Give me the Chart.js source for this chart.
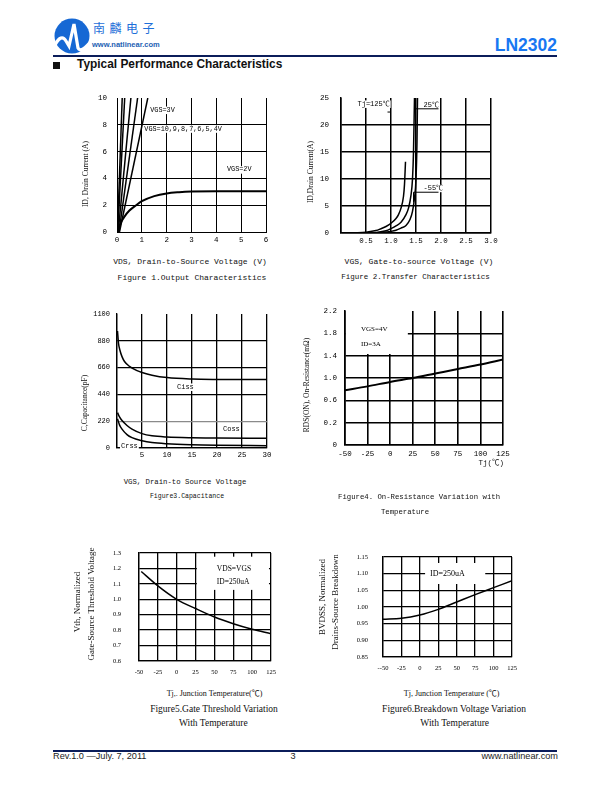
<!DOCTYPE html>
<html>
<head>
<meta charset="utf-8">
<script src="https://cdn.jsdelivr.net/npm/chart.js@4.4.1/dist/chart.umd.min.js"></script>
<style>
  body { margin: 0; width: 612px; height: 792px; position: relative; background: #fff; overflow: hidden; font-family: "Liberation Sans", Arial, sans-serif; }
  .abs { position: absolute; white-space: nowrap; line-height: 1; }
  canvas { position: absolute; }
  .mono { font-family: "Liberation Mono", "Noto Sans CJK SC", monospace; color: #111; }
  .serif { font-family: "Liberation Serif", "Noto Sans CJK SC", serif; color: #111; }
  .rot { transform: translate(-50%, -50%) rotate(-90deg); }
  .ctr { transform: translate(-50%, -50%); }
  .izq { transform: translateY(-50%); }
  .der { transform: translate(-100%, -50%); }
</style>
</head>
<body>
<!-- cabecera -->
<svg class="abs" style="left:54px;top:18px" width="38" height="36" viewBox="0 0 38 36">
  <circle cx="18" cy="18" r="17.5" fill="#1668d4"/>
  <path d="M1 27 C5 19 9 18 12 23 L15 28 L20 6 L24 30 C26 34 31 31 38 22" stroke="#fff" stroke-width="3.2" fill="none"/>
</svg>
<div class="abs izq" style="left:93px;top:28px;font-family:'Noto Sans CJK SC';font-size:12px;letter-spacing:4.5px;color:#1e6fd9">南麟电子</div>
<div class="abs izq" style="left:92px;top:45px;font-size:7.5px;font-weight:bold;color:#1d5fb3">www.natlinear.com</div>
<div class="abs der" style="left:557px;top:45.5px;font-size:17.5px;font-weight:bold;color:#1877f2">LN2302</div>
<div class="abs" style="left:53px;top:54.5px;width:504px;height:2.5px;background:#0b1d5a"></div>
<div class="abs" style="left:53px;top:62px;width:7px;height:7px;background:#111"></div>
<div class="abs izq" style="left:77px;top:65.3px;font-size:11.9px;font-weight:bold;color:#111">Typical Performance Characteristics</div>

<canvas id="fig1"></canvas>
<canvas id="fig2"></canvas>
<canvas id="fig3"></canvas>
<canvas id="fig4"></canvas>
<canvas id="fig5"></canvas>
<canvas id="fig6"></canvas>

<!-- textos figura 1 -->
<div class="abs serif rot" style="left:86px;top:174px;font-size:7.5px">ID, Drain Current (A)</div>
<div class="abs mono ctr" style="left:190px;top:262px;font-size:8px">VDS, Drain-to-Source Voltage (V)</div>
<div class="abs mono ctr" style="left:192px;top:277.7px;font-size:8px">Figure 1.Output Characteristics</div>
<!-- figura 2 -->
<div class="abs serif rot" style="left:311px;top:172px;font-size:7.5px">ID,Drain Current(A)</div>
<div class="abs mono ctr" style="left:419px;top:262px;font-size:8px">VGS, Gate-to-source Voltage (V)</div>
<div class="abs mono ctr" style="left:415.5px;top:277.7px;font-size:7.5px">Figure 2.Transfer Characteristics</div>
<!-- figura 3 -->
<div class="abs serif rot" style="left:85px;top:403px;font-size:7.5px">C,Capacitance(pF)</div>
<div class="abs mono ctr" style="left:185px;top:482.7px;font-size:7.3px">VGS, Drain-to Source Voltage</div>
<div class="abs mono ctr" style="left:187px;top:496.7px;font-size:6.5px">Figure3.Capacitance</div>
<!-- figura 4 -->
<div class="abs serif rot" style="left:307px;top:385px;font-size:7.5px">RDS(ON), On-Resistance(mΩ)</div>
<div class="abs mono der" style="left:504px;top:464.3px;font-size:7.5px">Tj(℃)</div>
<div class="abs mono izq" style="left:338px;top:497.7px;font-size:7.3px">Figure4.  On-Resistance Variation with</div>
<div class="abs mono ctr" style="left:405px;top:513.3px;font-size:7.3px">Temperature</div>
<!-- figura 5 -->
<div class="abs serif rot" style="left:77px;top:602px;font-size:9px">Vth, Normalized</div>
<div class="abs serif rot" style="left:91px;top:604px;font-size:9px">Gate-Source Threshold Voltage</div>
<div class="abs serif ctr" style="left:214.5px;top:694px;font-size:8px">Tj,. Junction Temperature(℃)</div>
<div class="abs serif ctr" style="left:214px;top:710px;font-size:9.5px">Figure5.Gate Threshold Variation</div>
<div class="abs serif ctr" style="left:213.3px;top:724px;font-size:9.5px">With Temperature</div>
<!-- figura 6 -->
<div class="abs serif rot" style="left:322px;top:597px;font-size:9px">BVDSS, Normalized</div>
<div class="abs serif rot" style="left:335px;top:602px;font-size:9px">Drains-Source Breakdown</div>
<div class="abs serif ctr" style="left:451.7px;top:694px;font-size:8px">Tj, Junction Temperature (℃)</div>
<div class="abs serif ctr" style="left:454px;top:710px;font-size:9.5px">Figure6.Breakdown Voltage Variation</div>
<div class="abs serif ctr" style="left:454.7px;top:724px;font-size:9.5px">With Temperature</div>

<!-- pie de pagina -->
<div class="abs" style="left:53px;top:750px;width:504px;height:2.3px;background:#0b1d5a"></div>
<div class="abs izq" style="left:53px;top:757px;font-size:9.2px;color:#222">Rev.1.0 —July. 7, 2011</div>
<div class="abs ctr" style="left:293px;top:757px;font-size:9.2px;color:#222">3</div>
<div class="abs der" style="left:558px;top:757px;font-size:9.2px;color:#222">www.natlinear.com</div>

<script>
// ---- Datos figura 1: curvas de salida ----
const fig1X = ["0", "1", "2", "3", "4", "5", "6"];
const fig1Y = ["0", "2", "4", "6", "8", "10"];
const vgs2Vds = [0, 0.1, 0.2, 0.3, 0.5, 0.77, 1, 1.5, 2, 2.5, 3, 4, 5, 6];
const vgs2Id = [0, 0.45, 0.85, 1.15, 1.6, 2.0, 2.3, 2.68, 2.88, 2.97, 3.02, 3.05, 3.05, 3.05];
const vgsAltoVds = [[0.02, 0.21], [0.03, 0.31], [0.05, 0.56], [0.08, 0.83], [0.1, 1.24]];
const vgsAltoId = [0, 10];

// ---- figura 2: transferencia ----
const fig2X = ["", "0.5", "1.0", "1.5", "2.0", "2.5", "3.0"];
const fig2Y = ["0", "5", "10", "15", "20", "25"];
const t125Vgs = [0, 0.3, 0.5, 0.7, 0.8, 0.9, 1.0, 1.1, 1.15, 1.2, 1.25, 1.27, 1.29];
const t125Id = [0, 0.05, 0.15, 0.45, 0.8, 1.2, 1.8, 2.7, 3.4, 4.6, 6.8, 9, 13.2];
const t25Vgs = [0, 0.5, 0.7, 0.9, 1.0, 1.1, 1.2, 1.3, 1.35, 1.4, 1.43, 1.45, 1.47];
const t25Id = [0, 0.02, 0.1, 0.4, 0.8, 1.3, 2.0, 3.4, 4.6, 7, 10, 15, 25];
const tm55Vgs = [0, 0.6, 0.8, 1.0, 1.1, 1.2, 1.3, 1.38, 1.43, 1.47, 1.5, 1.52, 1.53];
const tm55Id = [0, 0.02, 0.1, 0.3, 0.5, 0.9, 1.4, 2.5, 4.0, 6.5, 10, 17, 25];

// ---- figura 3: capacidades ----
const fig3X = ["", "5", "10", "15", "20", "25", "30"];
const fig3Y = ["0", "220", "440", "660", "880", "1100"];
const cissV = [0.1, 0.3, 0.6, 1, 1.5, 2.5, 4, 5, 7, 10, 15, 20, 30];
const cissPf = [960, 860, 800, 750, 710, 670, 635, 620, 598, 578, 566, 563, 562];
const cossV = [0.1, 0.5, 1, 2, 3, 5, 7, 10, 15, 20, 30];
const cossPf = [290, 255, 225, 185, 155, 118, 100, 90, 84, 82, 80];
const crssV = [0.1, 0.5, 1, 2, 3, 5, 7, 10, 15, 20, 30];
const crssPf = [240, 190, 155, 110, 85, 60, 45, 35, 27, 23, 19];

// ---- figura 4: Rds(on) vs temperatura ----
const fig4X = ["-50", "-25", "0", "25", "50", "75", "100", "125"];
const fig4Y = ["0", "0.2", "0.6", "1.0", "1.4", "1.8", "2.2"];
const temps = [-50, -25, 0, 25, 50, 75, 100, 125];
const rdsOn = [0.78, 0.85, 0.93, 1.0, 1.08, 1.16, 1.24, 1.33];

// ---- figura 5: Vth normalizado ----
const fig5X = ["-50", "-25", "0", "25", "50", "75", "100", "125"];
const fig5Y = ["0.6", "0.7", "0.8", "0.9", "1.0", "1.1", "1.2", "1.3"];
const vthTemp = [-47, -25, 0, 25, 50, 75, 100, 125];
const vthNorm = [1.18, 1.087, 1.0, 0.94, 0.885, 0.842, 0.806, 0.777];

// ---- figura 6: BVdss normalizado ----
const fig6X = ["--50", "-25", "0", "25", "50", "75", "100", "125"];
const fig6Y = ["0.85", "0.90", "0.95", "1.00", "1.05", "1.10", "1.15"];
const bvdss = [0.963, 0.966, 0.976, 0.993, 1.015, 1.037, 1.058, 1.079];

const MONO = "'Liberation Mono', 'Noto Sans CJK SC', monospace";
const SERIF = "'Liberation Serif', 'Noto Sans CJK SC', serif";

function pts(xs, ys) {
  return xs.map((x, i) => ({ x: x, y: ys[i] }));
}

function linea(data, ancho, suave) {
  return {
    data: data,
    borderColor: "#000",
    borderWidth: ancho,
    pointRadius: 0,
    fill: false,
    tension: suave ? 0.4 : 0,
    cubicInterpolationMode: suave ? "monotone" : "default",
  };
}

// eje generico, las etiquetas salen de los arrays de arriba
function eje(o) {
  const ultimo = o.labels.length - 1;
  return {
    type: "linear",
    min: o.min,
    max: o.max,
    ticks: {
      stepSize: o.step,
      autoSkip: false,
      maxRotation: 0,
      padding: o.pad,
      color: "#000",
      font: { family: o.family, size: o.size },
      callback: (v, i) => o.labels[i],
    },
    grid: {
      drawTicks: false,
      lineWidth: o.lw || 1,
      color: (c) => {
        if (o.sinTope && c.index === ultimo) return "rgba(0,0,0,0)";
        if (o.gris && o.gris.includes(c.index)) return "#8a8a8a";
        return "#000";
      },
    },
    border: { color: "#000", width: o.lw || 1 },
    afterFit: (s) => {
      s.paddingLeft = 0;
      s.paddingRight = 0;
      s.paddingTop = 0;
      s.paddingBottom = 0;
    },
  };
}

// textos y cajas blancas dentro del grafico (en coordenadas de datos)
function notas(cfg) {
  return {
    id: "notas",
    beforeDatasetsDraw(chart) {
      const ctx = chart.ctx;
      const x = chart.scales.x;
      const y = chart.scales.y;
      ctx.save();
      ctx.fillStyle = "#fff";
      (cfg.cajas || []).forEach(([x1, y1, x2, y2]) => {
        const a = x.getPixelForValue(x1);
        const b = y.getPixelForValue(y1);
        ctx.fillRect(a, b, x.getPixelForValue(x2) - a, y.getPixelForValue(y2) - b);
      });
      ctx.font = cfg.font;
      ctx.textBaseline = "middle";
      (cfg.textos || []).forEach(([tx, ty, s]) => {
        const px = x.getPixelForValue(tx);
        const py = y.getPixelForValue(ty);
        if (cfg.fondo) {
          const w = ctx.measureText(s).width;
          ctx.fillStyle = "#fff";
          ctx.fillRect(px - 1, py - 3.5, w + 2, 7.5);
        }
        ctx.fillStyle = "#000";
        ctx.fillText(s, px, py);
      });
      ctx.strokeStyle = "#000";
      ctx.lineWidth = 1;
      (cfg.guias || []).forEach((seg) => {
        ctx.beginPath();
        seg.forEach(([a, b], i) => {
          const px = x.getPixelForValue(a);
          const py = y.getPixelForValue(b);
          if (i) ctx.lineTo(px, py);
          else ctx.moveTo(px, py);
        });
        ctx.stroke();
      });
      ctx.restore();
    },
  };
}

// coloca el canvas para que el area del grafico caiga en la caja pedida
function crear(id, caja, m, datasets, sx, sy, nota) {
  const cv = document.getElementById(id);
  cv.width = m.izq + (caja.R - caja.L) + m.der;
  cv.height = m.arr + (caja.B - caja.T) + m.abj;
  cv.style.left = caja.L - m.izq + "px";
  cv.style.top = caja.T - m.arr + "px";
  sy.afterFit = ((f) => (s) => { f(s); s.width = m.izq; })(sy.afterFit);
  sx.afterFit = ((f) => (s) => { f(s); s.height = m.abj; })(sx.afterFit);
  return new Chart(cv, {
    type: "line",
    data: { datasets: datasets },
    options: {
      responsive: false,
      animation: false,
      devicePixelRatio: 1,
      layout: { padding: { top: m.arr, right: m.der, left: 0, bottom: 0 } },
      plugins: { legend: { display: false }, tooltip: { enabled: false } },
      scales: { x: sx, y: sy },
    },
    plugins: [notas(nota)],
  });
}

document.addEventListener("DOMContentLoaded", () => {
  // Figura 1
  crear(
    "fig1",
    { L: 117, T: 98, R: 266, B: 232 },
    { izq: 30, der: 10, arr: 8, abj: 20 },
    [linea(pts(vgs2Vds, vgs2Id), 2, true)].concat(
      vgsAltoVds.map((v) => linea(pts(v, vgsAltoId), 1.5, false))
    ),
    eje({ min: 0, max: 6, step: 1, labels: fig1X, pad: 4, family: MONO, size: 7.5 }),
    eje({ min: 0, max: 10, step: 2, labels: fig1Y, pad: 10, family: MONO, size: 7.5, sinTope: true }),
    {
      font: "6.8px " + MONO,
      fondo: true,
      textos: [
        [1.34, 9.1, "VGS=3V"],
        [1.1, 7.7, "VGS=10,9,8,7,6,5,4V"],
        [4.43, 4.65, "VGS=2V"],
      ],
    }
  );

  // Figura 2
  crear(
    "fig2",
    { L: 341, T: 98, R: 491, B: 233 },
    { izq: 30, der: 10, arr: 8, abj: 20 },
    [
      linea(pts(t125Vgs, t125Id), 1.5, true),
      linea(pts(t25Vgs, t25Id), 1.5, true),
      linea(pts(tm55Vgs, tm55Id), 1.5, true),
    ],
    eje({ min: 0, max: 3, step: 0.5, labels: fig2X, pad: 4, family: MONO, size: 7.5, lw: 1.5 }),
    eje({ min: 0, max: 25, step: 5, labels: fig2Y, pad: 12, family: MONO, size: 7.5, lw: 1.5, sinTope: true }),
    {
      font: "7px " + MONO,
      fondo: true,
      textos: [
        [0.33, 23.9, "Tj=125℃"],
        [1.65, 23.75, "25℃"],
        [1.65, 8.3, "-55℃"],
      ],
      guias: [
        [[0.93, 22.4], [1.0, 22.4]],
        [[1.48, 23.0], [1.95, 23.0]],
        [[1.45, 5.7], [1.45, 7.55], [1.95, 7.55]],
      ],
    }
  );

  // Figura 3
  crear(
    "fig3",
    { L: 117, T: 314, R: 267, B: 448 },
    { izq: 30, der: 10, arr: 8, abj: 20 },
    [
      linea(pts(cissV, cissPf), 1.5, true),
      linea(pts(cossV, cossPf), 1.5, true),
      linea(pts(crssV, crssPf), 1.5, true),
    ],
    eje({ min: 0, max: 30, step: 5, labels: fig3X, pad: 3, family: MONO, size: 7.5, lw: 1.3 }),
    eje({ min: 0, max: 1100, step: 220, labels: fig3Y, pad: 7, family: MONO, size: 7, lw: 1.3, sinTope: true, gris: [1] }),
    {
      font: "7px " + MONO,
      fondo: true,
      textos: [
        [12, 501, "Ciss"],
        [21.2, 156, "Coss"],
        [0.8, 18, "Crss"],
      ],
    }
  );

  // Figura 4
  crear(
    "fig4",
    { L: 345, T: 311, R: 503, B: 445 },
    { izq: 30, der: 10, arr: 8, abj: 20 },
    [linea(pts(temps, rdsOn), 2, true)],
    eje({ min: -50, max: 125, step: 25, labels: fig4X, pad: 5, family: MONO, size: 7.5, lw: 1.6 }),
    eje({ min: -0.2, max: 2.2, step: 0.4, labels: fig4Y, pad: 8, family: MONO, size: 7.5, lw: 1.6, sinTope: true }),
    {
      font: "7px " + SERIF,
      cajas: [[-48.9, 2.2, 19.6, 1.43]],
      textos: [
        [-32.3, 1.878, "VGS=4V"],
        [-32.3, 1.61, "ID=3A"],
      ],
    }
  );

  // Figura 5
  crear(
    "fig5",
    { L: 139, T: 553, R: 271, B: 661 },
    { izq: 40, der: 10, arr: 8, abj: 20 },
    [linea(pts(vthTemp, vthNorm), 1.5, true)],
    eje({ min: -50, max: 125, step: 25, labels: fig5X, pad: 7, family: SERIF, size: 6.5, lw: 1.3 }),
    eje({ min: 0.6, max: 1.3, step: 0.1, labels: fig5Y, pad: 18, family: SERIF, size: 6.5, lw: 1.3 }),
    {
      font: "7.5px " + SERIF,
      cajas: [[26.7, 1.276, 122.3, 1.061]],
      textos: [
        [53.2, 1.198, "VDS=VGS"],
        [53.2, 1.113, "ID=250uA"],
      ],
    }
  );

  // Figura 6
  crear(
    "fig6",
    { L: 383, T: 557, R: 512, B: 657 },
    { izq: 40, der: 12, arr: 8, abj: 20 },
    [linea(pts(temps, bvdss), 1.5, true)],
    eje({ min: -50, max: 125, step: 25, labels: fig6X, pad: 7, family: SERIF, size: 6.5, lw: 1.3 }),
    eje({ min: 0.85, max: 1.15, step: 0.05, labels: fig6Y, pad: 15, family: SERIF, size: 6.5, lw: 1.3 }),
    {
      font: "8px " + SERIF,
      cajas: [[7.1, 1.132, 88.7, 1.069]],
      textos: [[13.9, 1.099, "ID=250uA"]],
    }
  );
});
</script>
</body>
</html>
